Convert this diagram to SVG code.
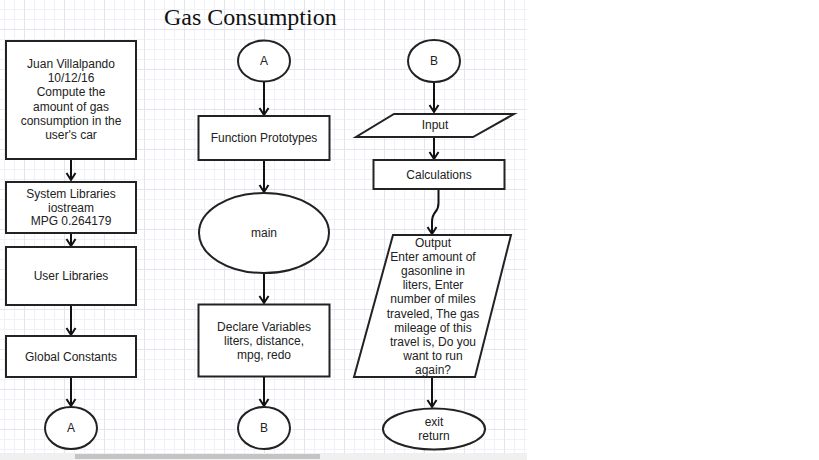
<svg xmlns="http://www.w3.org/2000/svg" width="819" height="460" viewBox="0 0 819 460">
<style>
.shape{fill:#fff;stroke:#222;stroke-width:2}
.lbl{font-family:"Liberation Sans",Arial,sans-serif;font-size:12px;fill:#222;text-anchor:middle}
.conn{fill:none;stroke:#111;stroke-width:2;marker-end:url(#arr)}
.title{font-family:"Liberation Serif","Times New Roman",serif;font-size:24px;fill:#111}
</style>
<defs>
<pattern id="grid" x="4" y="9" width="40" height="40" patternUnits="userSpaceOnUse">
<rect x="0" y="0" width="1" height="40" fill="#f0f0f8"/>
<rect x="10" y="0" width="1" height="40" fill="#f0f0f8"/>
<rect x="30" y="0" width="1" height="40" fill="#f0f0f8"/>
<rect x="0" y="0" width="40" height="1" fill="#f0f0f8"/>
<rect x="0" y="10" width="40" height="1" fill="#f0f0f8"/>
<rect x="0" y="30" width="40" height="1" fill="#f0f0f8"/>
<rect x="20" y="0" width="1" height="40" fill="#e3e3f2"/>
<rect x="0" y="20" width="40" height="1" fill="#e3e3f2"/>
</pattern>
<marker id="arr" viewBox="-9 -6 11 12" markerWidth="11" markerHeight="12" refX="0" refY="0" orient="auto" markerUnits="userSpaceOnUse">
<path d="M -7 -4.5 L 0 0 L -7 4.5" fill="none" stroke="#111" stroke-width="2"/>
</marker>
</defs>
<rect x="0" y="0" width="819" height="460" fill="#fff"/>
<rect x="0" y="0" width="527" height="453" fill="url(#grid)"/>
<rect x="0" y="453" width="527" height="7" fill="#f0f0f0"/>
<rect x="75" y="454" width="245" height="5" fill="#c4c4c4"/>

<text class="title" x="164" y="25">Gas Consumption</text>

<g id="connectors">
<path class="conn" d="M 71 159 L 71 180"/>
<path class="conn" d="M 71 233 L 71 246"/>
<path class="conn" d="M 71 305 L 71 335"/>
<path class="conn" d="M 71 377 L 71 406"/>
<path class="conn" d="M 264 82 L 264 115"/>
<path class="conn" d="M 264 160 L 264 192"/>
<path class="conn" d="M 264 273 L 264 303"/>
<path class="conn" d="M 264 377 L 264 406"/>
<path class="conn" d="M 434 82 L 434 112"/>
<path class="conn" d="M 434 137 L 434 159"/>
<path class="conn" d="M 438.5 190 L 438.5 203 C 438.5 214 432 210 432 222 L 432 234"/>
<path class="conn" d="M 432 377 L 432 407"/>
</g>

<g id="header">
<rect class="shape" x="6" y="41" width="130" height="118"/>
<text class="lbl" x="71" y="68"><tspan x="71">Juan Villalpando</tspan><tspan x="71" dy="14.2">10/12/16</tspan><tspan x="71" dy="14.2">Compute the</tspan><tspan x="71" dy="14.2">amount of gas</tspan><tspan x="71" dy="14.2">consumption in the</tspan><tspan x="71" dy="14.2">user's car</tspan></text>
</g>
<g id="syslib">
<rect class="shape" x="6" y="182" width="130" height="51"/>
<text class="lbl" x="71" y="198"><tspan x="71">System Libraries</tspan><tspan x="71" dy="13.7">iostream</tspan><tspan x="71" dy="13.7">MPG 0.264179</tspan></text>
</g>
<g id="userlib">
<rect class="shape" x="6" y="247" width="130" height="58"/>
<text class="lbl" x="71" y="280">User Libraries</text>
</g>
<g id="globals">
<rect class="shape" x="6" y="336" width="130" height="41"/>
<text class="lbl" x="71" y="361">Global Constants</text>
</g>
<g id="connA1">
<ellipse class="shape" cx="71" cy="428" rx="26" ry="21"/>
<text class="lbl" x="71" y="432">A</text>
</g>

<g id="connA2">
<ellipse class="shape" cx="264" cy="61" rx="26" ry="20.5"/>
<text class="lbl" x="264" y="65">A</text>
</g>
<g id="protos">
<rect class="shape" x="198.5" y="116" width="131" height="44"/>
<text class="lbl" x="264" y="142">Function Prototypes</text>
</g>
<g id="main">
<ellipse class="shape" cx="264" cy="233" rx="65" ry="40"/>
<text class="lbl" x="264" y="237">main</text>
</g>
<g id="declare">
<rect class="shape" x="198.5" y="304.5" width="131" height="72"/>
<text class="lbl" x="264" y="331"><tspan x="264">Declare Variables</tspan><tspan x="264" dy="14.2">liters, distance,</tspan><tspan x="264" dy="14.2">mpg, redo</tspan></text>
</g>
<g id="connB1">
<ellipse class="shape" cx="264" cy="428" rx="26" ry="21"/>
<text class="lbl" x="264" y="432">B</text>
</g>

<g id="connB2">
<ellipse class="shape" cx="434" cy="61" rx="26" ry="21"/>
<text class="lbl" x="434" y="65">B</text>
</g>
<g id="input">
<polygon class="shape" points="394,114 514,114 473,137 356,137"/>
<text class="lbl" x="435" y="129">Input</text>
</g>
<g id="calc">
<rect class="shape" x="373.5" y="160" width="131" height="29"/>
<text class="lbl" x="439" y="178.5">Calculations</text>
</g>
<g id="output">
<polygon class="shape" points="393,235 511,235 475,377 354,377"/>
<text class="lbl" x="433" y="247"><tspan x="433">Output</tspan><tspan x="433" dy="14.1">Enter amount of</tspan><tspan x="433" dy="14.1">gasonline in</tspan><tspan x="433" dy="14.1">liters, Enter</tspan><tspan x="433" dy="14.1">number of miles</tspan><tspan x="433" dy="14.1">traveled, The gas</tspan><tspan x="433" dy="14.1">mileage of this</tspan><tspan x="433" dy="14.1">travel is, Do you</tspan><tspan x="433" dy="14.1">want to run</tspan><tspan x="433" dy="14.1">again?</tspan></text>
</g>
<g id="exit">
<ellipse class="shape" cx="434" cy="429" rx="51" ry="20.5"/>
<text class="lbl" x="434" y="426"><tspan x="434">exit</tspan><tspan x="434" dy="14">return</tspan></text>
</g>
</svg>
